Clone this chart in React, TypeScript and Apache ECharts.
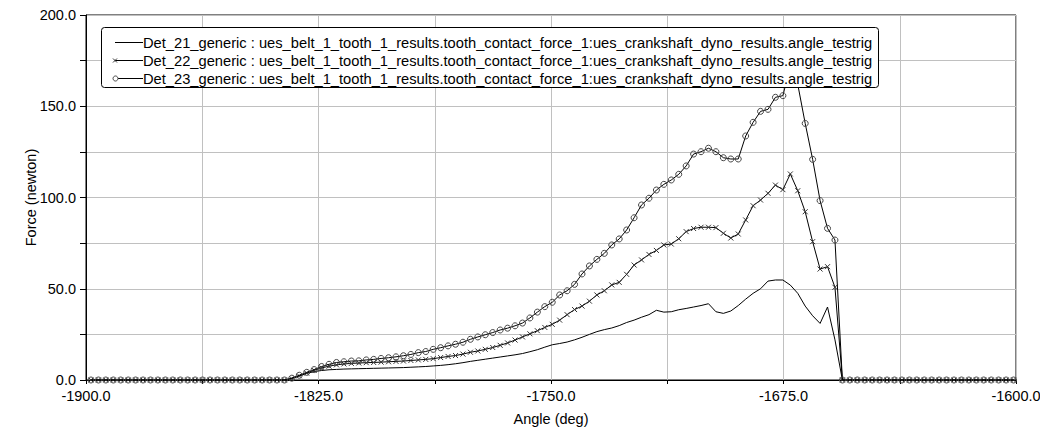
import React, { useEffect, useRef } from "react";
import * as echarts from "echarts";

const angles = [
  -1898.4, -1896.0, -1893.6, -1891.2, -1888.8, -1886.4, -1884.0, -1881.6, -1879.2, -1876.8,
  -1874.4, -1872.0, -1869.6, -1867.2, -1864.8, -1862.4, -1860.0, -1857.6, -1855.2, -1852.8,
  -1850.4, -1848.0, -1845.6, -1843.2, -1840.8, -1838.4, -1836.0, -1833.6, -1831.2, -1828.8,
  -1826.4, -1824.0, -1821.6, -1819.2, -1816.8, -1814.4, -1812.0, -1809.6, -1807.2, -1804.8,
  -1802.4, -1800.0, -1797.6, -1795.2, -1792.8, -1790.4, -1788.0, -1785.6, -1783.2, -1780.8,
  -1778.4, -1776.0, -1773.6, -1771.2, -1768.8, -1766.4, -1764.0, -1761.6, -1759.2, -1756.8,
  -1754.4, -1752.0, -1749.6, -1747.2, -1744.8, -1742.4, -1740.0, -1737.6, -1735.2, -1732.8,
  -1730.4, -1728.0, -1725.6, -1723.2, -1720.8, -1718.4, -1716.0, -1713.6, -1711.2, -1708.8,
  -1706.4, -1704.0, -1701.6, -1699.2, -1696.8, -1694.4, -1692.0, -1689.6, -1687.2, -1684.8,
  -1682.4, -1680.0, -1677.6, -1675.2, -1672.8, -1670.4, -1668.0, -1665.6, -1663.2, -1660.8,
  -1658.4, -1656.0, -1653.6, -1651.2, -1648.8, -1646.4, -1644.0, -1641.6, -1639.2, -1636.8,
  -1634.4, -1632.0, -1629.6, -1627.2, -1624.8, -1622.4, -1620.0, -1617.6, -1615.2, -1612.8,
  -1610.4, -1608.0, -1605.6, -1603.2, -1600.8,
];

const det21 = [
  0, 0, 0, 0, 0, 0, 0, 0, 0, 0,
  0, 0, 0, 0, 0, 0, 0, 0, 0, 0,
  0, 0, 0, 0, 0, 0, 0, 0.8, 2.2, 3.6,
  4.6, 5.2, 5.6, 5.8, 6.0, 6.1, 6.2, 6.3, 6.4, 6.5,
  6.6, 6.7, 6.8, 7.0, 7.2, 7.4, 7.7, 8.0, 8.4, 8.9,
  9.5, 10.2, 10.8, 11.4, 12.0, 12.6, 13.2, 13.8, 14.5, 15.5,
  16.6, 18.0, 19.3, 20.0, 20.8, 22.0, 23.4, 25.0, 26.5, 27.6,
  28.5, 29.8, 31.5, 32.8, 34.4, 35.8, 38.2, 37.2, 37.4, 38.5,
  39.2, 40.0, 40.8, 41.8, 37.4, 36.5, 37.8, 40.8, 44.3, 47.5,
  50.0, 54.2, 54.8, 54.8, 52.0, 47.5, 40.5, 35.2, 31.0, 40.0,
  22.0, 0, 0, 0, 0, 0, 0, 0, 0, 0,
  0, 0, 0, 0, 0, 0, 0, 0, 0, 0,
  0, 0, 0, 0, 0,
];

const det22 = [
  0, 0, 0, 0, 0, 0, 0, 0, 0, 0,
  0, 0, 0, 0, 0, 0, 0, 0, 0, 0,
  0, 0, 0, 0, 0, 0, 0, 0.8, 2.3, 3.8,
  5.3, 6.6, 7.6, 8.3, 8.8, 9.1, 9.3, 9.5, 9.6, 9.8,
  10.0, 10.2, 10.4, 10.7, 11.0, 11.3, 11.7, 12.3, 12.9, 13.4,
  14.2, 15.2, 15.9, 16.8, 17.8, 19.0, 20.3, 21.9, 23.6, 25.3,
  27.0, 28.8, 30.5, 32.8, 35.8, 38.6, 40.5, 43.2, 46.6, 48.9,
  52.1, 53.5, 57.9, 63.0, 65.8, 68.8, 71.0, 74.0, 74.5, 77.4,
  81.3, 83.0, 83.7, 83.7, 83.5, 80.4, 77.8, 80.0, 87.7, 95.5,
  98.6, 102.3, 106.8, 104.3, 112.9, 103.7, 92.2, 75.8, 60.8, 62.1,
  50.8, 0, 0, 0, 0, 0, 0, 0, 0, 0,
  0, 0, 0, 0, 0, 0, 0, 0, 0, 0,
  0, 0, 0, 0, 0,
];

const det23 = [
  0, 0, 0, 0, 0, 0, 0, 0, 0, 0,
  0, 0, 0, 0, 0, 0, 0, 0, 0, 0,
  0, 0, 0, 0, 0, 0, 0, 1.0, 2.6, 4.2,
  5.7, 7.4, 8.6, 9.6, 10.0, 10.4, 10.5, 11.0, 11.3, 11.8,
  12.2, 12.7, 13.3, 14.0, 15.0, 15.6, 16.8, 17.7, 18.7, 19.6,
  20.7, 22.3, 23.6, 24.8, 26.0, 27.4, 28.4, 29.7, 31.2, 34.0,
  37.2, 40.2, 42.6, 46.6, 48.9, 52.4, 58.1, 62.5, 66.1, 69.4,
  74.0, 77.3, 82.2, 88.9, 95.9, 99.6, 104.1, 107.2, 109.6, 112.7,
  117.3, 123.8, 125.1, 127.0, 125.1, 121.8, 121.1, 121.1, 133.7, 141.2,
  147.2, 148.3, 154.9, 155.8, 172.0, 162.0, 140.6, 120.9, 98.3, 83.1,
  76.7, 0, 0, 0, 0, 0, 0, 0, 0, 0,
  0, 0, 0, 0, 0, 0, 0, 0, 0, 0,
  0, 0, 0, 0, 0,
];

const seriesNames = [
  "Det_21_generic : ues_belt_1_tooth_1_results.tooth_contact_force_1:ues_crankshaft_dyno_results.angle_testrig",
  "Det_22_generic : ues_belt_1_tooth_1_results.tooth_contact_force_1:ues_crankshaft_dyno_results.angle_testrig",
  "Det_23_generic : ues_belt_1_tooth_1_results.tooth_contact_force_1:ues_crankshaft_dyno_results.angle_testrig",
];

const xTitle = "Angle (deg)";
const yTitle = "Force (newton)";

const FONT = "'Liberation Sans', Arial, sans-serif";
const FS = 14.5;
const LEGEND_FS = 14.7;

function pairs(ys: number[]) {
  return angles.map((a, i) => [a, ys[i]]);
}

export default function App() {
  const ref = useRef<HTMLDivElement>(null);

  useEffect(() => {
    document.body.style.margin = "0";
    const chart = echarts.init(ref.current!, undefined, { renderer: "svg" });

    const isMultiple = (v: number, base: number, step: number) => {
      const q = (v - base) / step;
      return Math.abs(q - Math.round(q)) < 1e-6;
    };

    const legendRows = [42, 60, 78];
    const legendGraphics: any[] = [
      {
        type: "rect",
        shape: { x: 101.5, y: 27.5, width: 777, height: 60, r: 3 },
        style: { fill: "#fff", stroke: "#000", lineWidth: 1 },
        z: 100,
      },
    ];
    legendRows.forEach((y, k) => {
      legendGraphics.push({
        type: "line",
        shape: { x1: 115, y1: y + 0.5, x2: 143, y2: y + 0.5 },
        style: { stroke: "#000", lineWidth: 1 },
        z: 101,
      });
      legendGraphics.push({
        type: "text",
        x: 143,
        y: y + 1,
        style: {
          text: seriesNames[k],
          fontFamily: FONT,
          fontSize: LEGEND_FS,
          fill: "#000",
          textAlign: "left",
          textVerticalAlign: "middle",
          verticalAlign: "middle",
        },
        z: 101,
      });
    });
    legendGraphics.push({
      type: "line",
      shape: { x1: 113, y1: 58.5, x2: 117, y2: 62.5 },
      style: { stroke: "#333", lineWidth: 1 },
      z: 102,
    });
    legendGraphics.push({
      type: "line",
      shape: { x1: 117, y1: 58.5, x2: 113, y2: 62.5 },
      style: { stroke: "#333", lineWidth: 1 },
      z: 102,
    });
    legendGraphics.push({
      type: "circle",
      shape: { cx: 115.5, cy: 78.5, r: 2.5 },
      style: { fill: "#fff", stroke: "#444", lineWidth: 1 },
      z: 102,
    });

    const option: any = {
      animation: false,
      backgroundColor: "#fff",
      textStyle: { fontFamily: FONT },
      grid: {
        left: 86,
        right: 24,
        top: 15,
        bottom: 49,
        outerBoundsMode: "none",
        containLabel: false,
        show: true,
        borderColor: "#000",
        borderWidth: 1,
        backgroundColor: "transparent",
      },
      xAxis: {
        type: "value",
        min: -1900,
        max: -1600,
        interval: 37.5,
        name: xTitle,
        nameLocation: "middle",
        nameGap: 31,
        nameTextStyle: { color: "#000", fontFamily: FONT, fontSize: FS },
        axisLine: { show: true, lineStyle: { color: "#000", width: 1 } },
        axisTick: { show: true, length: 4, lineStyle: { color: "#000" } },
        splitLine: { show: true, lineStyle: { color: "#c0c0c0", width: 1 } },
        axisLabel: {
          color: "#000",
          fontFamily: FONT,
          fontSize: FS,
          margin: 8,
          formatter: (v: number) => (isMultiple(v, -1900, 75) ? v.toFixed(1) : ""),
        },
      },
      yAxis: {
        type: "value",
        min: 0,
        max: 200,
        interval: 25,
        name: yTitle,
        nameLocation: "middle",
        nameGap: 48,
        nameMoveOverlap: false,
        nameRotate: 90,
        nameTextStyle: { color: "#000", fontFamily: FONT, fontSize: FS },
        axisLine: { show: true, lineStyle: { color: "#000", width: 1 } },
        axisTick: { show: true, length: 6, lineStyle: { color: "#000" } },
        splitLine: { show: true, lineStyle: { color: "#c0c0c0", width: 1 } },
        axisLabel: {
          color: "#000",
          fontFamily: FONT,
          fontSize: FS,
          margin: 10,
          formatter: (v: number) => (isMultiple(v, 0, 50) ? v.toFixed(1) : ""),
        },
      },
      series: [
        {
          name: seriesNames[0],
          type: "line",
          data: pairs(det21),
          showSymbol: false,
          symbol: "none",
          lineStyle: { color: "#000", width: 1 },
          itemStyle: { color: "#000" },
          z: 2,
        },
        {
          name: seriesNames[1],
          type: "line",
          data: pairs(det22),
          symbol: "path://M0,0L10,10M10,0L0,10",
          symbolSize: 5,
          showAllSymbol: true,
          lineStyle: { color: "#000", width: 1 },
          itemStyle: { color: "transparent", borderColor: "#333", borderWidth: 1 },
          z: 3,
        },
        {
          name: seriesNames[2],
          type: "line",
          data: pairs(det23),
          symbol: "circle",
          symbolSize: 6,
          showAllSymbol: true,
          lineStyle: { color: "#000", width: 1 },
          itemStyle: { color: "transparent", borderColor: "#444", borderWidth: 1 },
          z: 4,
        },
      ],
      graphic: legendGraphics,
    };

    chart.setOption(option);
    return () => {
      chart.dispose();
    };
  }, []);

  return <div ref={ref} style={{ width: 1040, height: 429 }} />;
}
